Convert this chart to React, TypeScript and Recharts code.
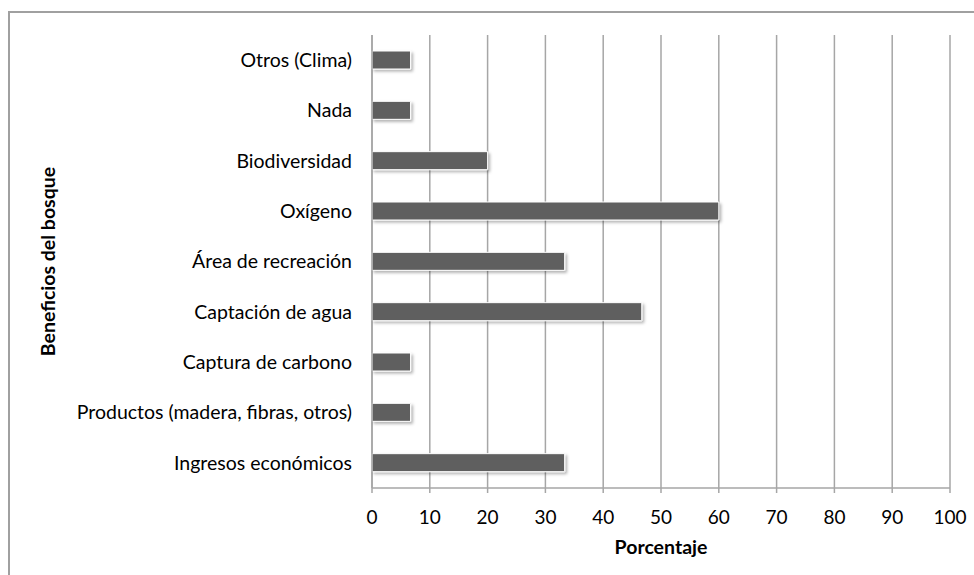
import React from 'react'
import { BarChart, Bar, XAxis, YAxis, CartesianGrid, Label } from 'recharts'

// shown top to bottom
const categories = [
  'Otros (Clima)',
  'Nada',
  'Biodiversidad',
  'Oxígeno',
  'Área de recreación',
  'Captación de agua',
  'Captura de carbono',
  'Productos (madera, fibras, otros)',
  'Ingresos económicos',
]
const porcentaje = [6.67, 6.67, 20, 60, 33.33, 46.67, 6.67, 6.67, 33.33]
const xTicks = [0, 10, 20, 30, 40, 50, 60, 70, 80, 90, 100]

const data = categories.map((name, i) => ({ name, value: porcentaje[i] }))

const FONT = 'Lato, "Open Sans", sans-serif'
const GRID = '#a6a6a6'

export default function App() {
  return (
    <div style={{ position: 'fixed', left: 0, top: 0, width: 974, height: 575, overflow: 'hidden', background: '#fff' }}>
      <svg width={0} height={0} style={{ position: 'absolute' }}>
        <defs>
          <filter id="barShadow" x="-10%" y="-40%" width="130%" height="200%">
            <feDropShadow dx="2" dy="2" stdDeviation="1.5" floodColor="#000" floodOpacity="0.3" />
          </filter>
        </defs>
      </svg>
      <div
        style={{
          position: 'absolute',
          left: 8,
          top: 11,
          width: 1000,
          height: 600,
          borderLeft: '2px solid #a0a0a0',
          borderTop: '2px solid #a0a0a0',
        }}
      />
      <div style={{ position: 'absolute', left: 0, top: 0 }}>
        <BarChart
          width={974}
          height={575}
          data={data}
          layout="vertical"
          margin={{ top: 35, right: 24, bottom: 0, left: 0 }}
        >
          <CartesianGrid horizontal={false} stroke={GRID} strokeWidth={1.5} />
          <XAxis
            type="number"
            domain={[0, 100]}
            ticks={xTicks}
            interval={0}
            height={87}
            stroke={GRID}
            strokeWidth={1.5}
            tickSize={5}
            tickMargin={18}
            tick={{ fill: '#000', fontSize: 19, fontFamily: FONT }}
          >
            <Label
              value="Porcentaje"
              position="insideBottom"
              offset={21}
              style={{ fill: '#000', fontSize: 19.5, fontWeight: 700, fontFamily: FONT }}
            />
          </XAxis>
          <YAxis
            type="category"
            dataKey="name"
            width={372}
            stroke={GRID}
            strokeWidth={1.5}
            tickLine={false}
            tickSize={0}
            tickMargin={20}
            interval={0}
            tick={{ fill: '#000', fontSize: 19.5, fontFamily: FONT }}
          >
            <Label
              value="Beneficios del bosque"
              angle={-90}
              position="insideLeft"
              offset={48}
              style={{ fill: '#000', fontSize: 19.5, fontWeight: 700, fontFamily: FONT, textAnchor: 'middle' }}
            />
          </YAxis>
          <Bar
            dataKey="value"
            fill="#5f5f5f"
            stroke="#ffffff"
            strokeWidth={1}
            barSize={18}
            isAnimationActive={false}
            style={{ filter: 'url(#barShadow)' }}
          />
        </BarChart>
      </div>
    </div>
  )
}
